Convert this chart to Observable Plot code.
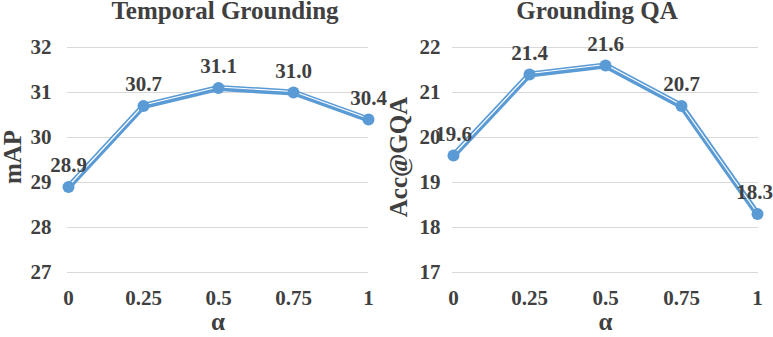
<!DOCTYPE html>
<html><head><meta charset="utf-8">
<script src="https://cdn.jsdelivr.net/npm/d3@7"></script>
<script src="https://cdn.jsdelivr.net/npm/@observablehq/plot@0.6"></script>
<style>
body{margin:0;background:#fff;font-family:'Liberation Serif',serif;}
#wrap{position:relative;width:773px;height:337px;overflow:hidden;background:#fff;}
.title{position:absolute;top:0;height:28px;line-height:22px;font-family:'Liberation Serif',serif;font-weight:bold;font-size:25px;color:#404040;white-space:nowrap;transform:translateX(-50%);}
.panel{position:absolute;top:28px;}
.panel svg, .panel svg text{font-family:'Liberation Serif',serif !important;font-weight:bold;}
</style></head><body>
<div id="wrap">
  <div class="title" style="left:225px">Temporal Grounding</div>
  <div class="title" style="left:597px">Grounding QA</div>
  <div class="panel" id="p1" style="left:0px"></div>
  <div class="panel" id="p2" style="left:386px"></div>
</div>
<script>
const alphas = ["0", "0.25", "0.5", "0.75", "1"];
const mapValues = [28.9, 30.7, 31.1, 31.0, 30.4];
const gqaValues = [19.6, 21.4, 21.6, 20.7, 18.3];
const mapTicks = [27, 28, 29, 30, 31, 32];
const gqaTicks = [17, 18, 19, 20, 21, 22];

const FONT = "'Liberation Serif', serif";
function panel(values, ticks, ylabel, width, ml, mr, labelDx, tickPad, lastDx) {
  const data = alphas.map((a, i) => ({a, v: values[i]}));
  const labelOpts = {x: "a", y: "v", text: d => d.v.toFixed(1), lineAnchor: "bottom", dy: -15, fontSize: 21, fontFamily: FONT, fontWeight: "bold", fill: "#404040"};
  return Plot.plot({
    width, height: 309,
    marginLeft: ml, marginRight: mr, marginTop: 19, marginBottom: 65,
    style: {fontFamily: FONT, fontWeight: "bold", color: "#404040", background: "transparent", overflow: "visible"},
    x: {type: "point", domain: alphas, padding: 0},
    y: {domain: [ticks[0], ticks[ticks.length - 1]]},
    marks: [
      Plot.ruleY(ticks, {stroke: "#d9d9d9", strokeWidth: 1}),
      Plot.axisY(ticks, {tickSize: 0, tickPadding: tickPad, fontSize: 21, label: null}),
      Plot.axisX(alphas, {tickSize: 0, tickPadding: 18, fontSize: 21, label: null}),
      Plot.text([ylabel], {frameAnchor: "left", textAnchor: "middle", rotate: -90, dx: labelDx, dy: -3, fontSize: 25, fontFamily: FONT, fontWeight: "bold", fill: "#404040"}),
      Plot.text(["α"], {frameAnchor: "bottom", dy: 57, fontSize: 25, fontFamily: FONT, fontWeight: "bold", fill: "#404040"}),
      Plot.line(data, {x: "a", y: "v", stroke: "#5b9bd5", strokeWidth: 6}),
      Plot.line(data, {x: "a", y: "v", stroke: "#ffffff", strokeWidth: 1.2, dy: -1}),
      Plot.dot(data, {x: "a", y: "v", r: 6, fill: "#5b9bd5"}),
      Plot.text(data.slice(0, -1), labelOpts),
      Plot.text(data.slice(-1), {...labelOpts, dx: lastDx})
    ]
  });
}
document.getElementById("p1").append(panel(mapValues, mapTicks, "mAP", 386, 67, 18, -55, 16, 0));
document.getElementById("p2").append(panel(gqaValues, gqaTicks, "Acc@GQA", 387, 66, 15, -54, 12, -3));
</script>
</body></html>
